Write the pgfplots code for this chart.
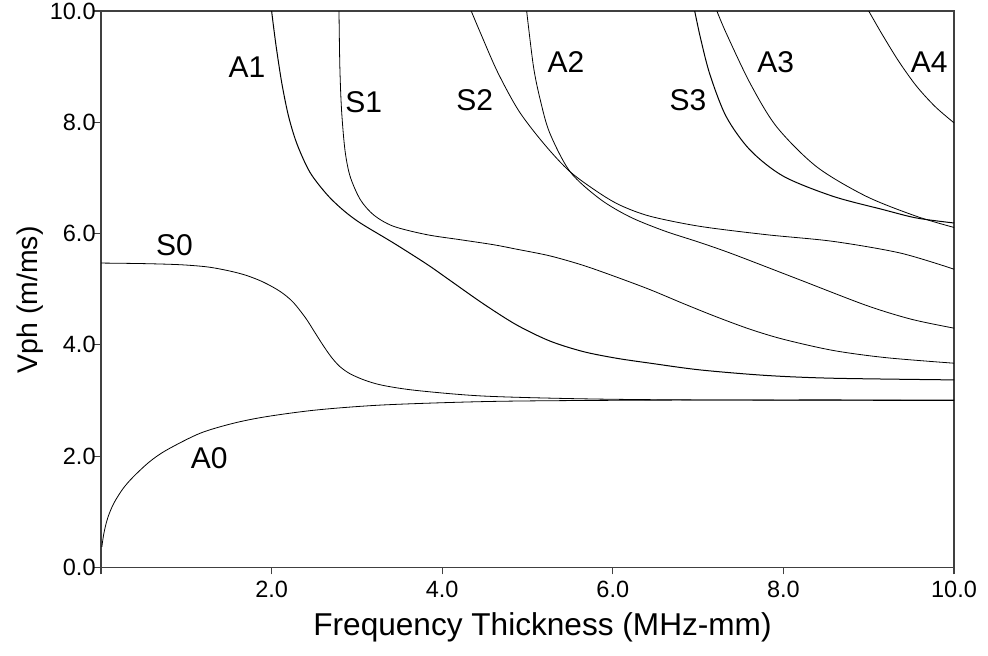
\documentclass[border=0pt]{standalone}
\usepackage{pgfplots}
\pgfplotsset{compat=1.18}
\usepackage{fontspec}
\setmainfont{Liberation Sans}

\begin{document}
\begin{tikzpicture}
\begin{axis}[
 scale only axis, width=426.5pt, height=278.2pt,
 xmin=0,xmax=10,ymin=0,ymax=10,
 axis line style={line width=0.6pt, draw=black!75},
 tick align=outside, tick pos=left,
 major tick length=3.5pt,
 tick style={line width=0.6pt, black!75},
 /pgf/number format/assume math mode=true,
 xtick={0,2,4,6,8,10}, xticklabels={,2.0,4.0,6.0,8.0,10.0},
 ytick={0,2,4,6,8,10}, yticklabels={0.0,2.0,4.0,6.0,8.0,10.0},
 ticklabel style={font=\fontsize{11.75}{13}\selectfont},
 yticklabel style={inner sep=0pt, xshift=1pt},
 xticklabel style={inner sep=0pt, yshift=-3pt},
 xlabel={Frequency Thickness (MHz-mm)}, ylabel={Vph (m/ms)},
 xlabel style={font=\fontsize{15.8}{18}\selectfont, at={(axis description cs:0.5176,-0.1217)}, anchor=base},
 ylabel style={font=\fontsize{14.2}{16}\selectfont, at={(axis description cs:-0.0832,0.481)}, anchor=center},
 cycle list={{black, solid, line width=0.5pt, no marks}},
 every axis plot/.append style={smooth},
 clip=true,
]
% A0
\addplot coordinates {(0.01,0.37) (0.03,0.58) (0.06,0.79) (0.1,0.98) (0.16,1.18) (0.26,1.42) (0.38,1.63) (0.57,1.90) (0.77,2.11) (1.16,2.41) (1.55,2.59) (1.94,2.71) (2.53,2.83) (3.31,2.92) (4.48,2.98) (5.65,3.00) (7.5,3.01) (10,3.01)};
% S0
\addplot coordinates {(0,5.47) (0.5,5.46) (0.93,5.44) (1.25,5.40) (1.5,5.33) (1.7,5.25) (1.9,5.13) (2.1,4.96) (2.25,4.77) (2.4,4.48) (2.5,4.24) (2.6,4.00) (2.7,3.78) (2.8,3.61) (2.92,3.48) (3.1,3.36) (3.31,3.27) (3.70,3.18) (4.48,3.08) (5.65,3.03) (7,3.01) (10,3.00)};
% A1
\addplot coordinates {(2.0,10) (2.05,9.4) (2.12,8.7) (2.2,8.1) (2.3,7.6) (2.45,7.1) (2.65,6.7) (2.84,6.42) (3.04,6.19) (3.43,5.83) (3.82,5.45) (4.09,5.16) (4.48,4.74) (4.87,4.36) (5.26,4.07) (5.65,3.88) (6.04,3.76) (6.44,3.67) (7.02,3.55) (7.8,3.45) (8.58,3.40) (10,3.37)};
% S1
\addplot coordinates {(2.79,10) (2.80,9.0) (2.82,8.22) (2.86,7.5) (2.92,7.03) (3.04,6.61) (3.2,6.33) (3.43,6.13) (3.82,5.98) (4.21,5.89) (4.6,5.80) (4.87,5.72) (5.26,5.60) (5.65,5.43) (6.04,5.22) (6.44,4.99) (6.83,4.74) (7.22,4.50) (7.61,4.28) (8.0,4.10) (8.58,3.90) (9.2,3.77) (10,3.67)};
% S2
\addplot coordinates {(4.34,10) (4.45,9.6) (4.65,8.9) (4.9,8.2) (5.2,7.6) (5.5,7.11) (5.85,6.72) (6.1,6.50) (6.44,6.31) (7.02,6.13) (7.8,5.98) (8.58,5.86) (9.37,5.65) (10,5.36)};
% A2
\addplot coordinates {(4.99,10) (5.07,9.0) (5.15,8.4) (5.26,7.81) (5.5,7.11) (5.85,6.62) (6.2,6.30) (6.6,6.05) (7.02,5.84) (7.41,5.63) (8.19,5.17) (8.97,4.71) (9.5,4.46) (10,4.30)};
% S3
\addplot coordinates {(6.96,10) (7.03,9.5) (7.14,8.85) (7.33,8.1) (7.61,7.5) (8.0,7.03) (8.58,6.67) (9.17,6.43) (9.56,6.28) (10,6.19)};
% A3
\addplot coordinates {(7.22,10) (7.33,9.6) (7.61,8.7) (7.92,7.92) (8.39,7.2) (8.97,6.67) (9.56,6.31) (10,6.11)};
% A4
\addplot coordinates {(9.0,10) (9.15,9.6) (9.35,9.1) (9.56,8.65) (9.78,8.28) (10,7.99)};

\begin{scope}[every node/.style={font=\fontsize{15}{18}\selectfont, inner sep=0pt}]
\node at (axis cs:1.71,8.99) {A1};
\node at (axis cs:3.08,8.36) {S1};
\node at (axis cs:4.38,8.39) {S2};
\node at (axis cs:5.45,9.08) {A2};
\node at (axis cs:6.88,8.39) {S3};
\node at (axis cs:7.91,9.08) {A3};
\node at (axis cs:9.71,9.08) {A4};
\node at (axis cs:0.86,5.80) {S0};
\node at (axis cs:1.27,1.97) {A0};
\end{scope}
\coordinate (sw) at (rel axis cs:0,0);
\coordinate (ne) at (rel axis cs:1,1);
\end{axis}
\pgfresetboundingbox
\path ([shift={(-50.5pt,-43.85pt)}]sw) rectangle ([shift={(17pt,5.5pt)}]ne);
\end{tikzpicture}
\end{document}
